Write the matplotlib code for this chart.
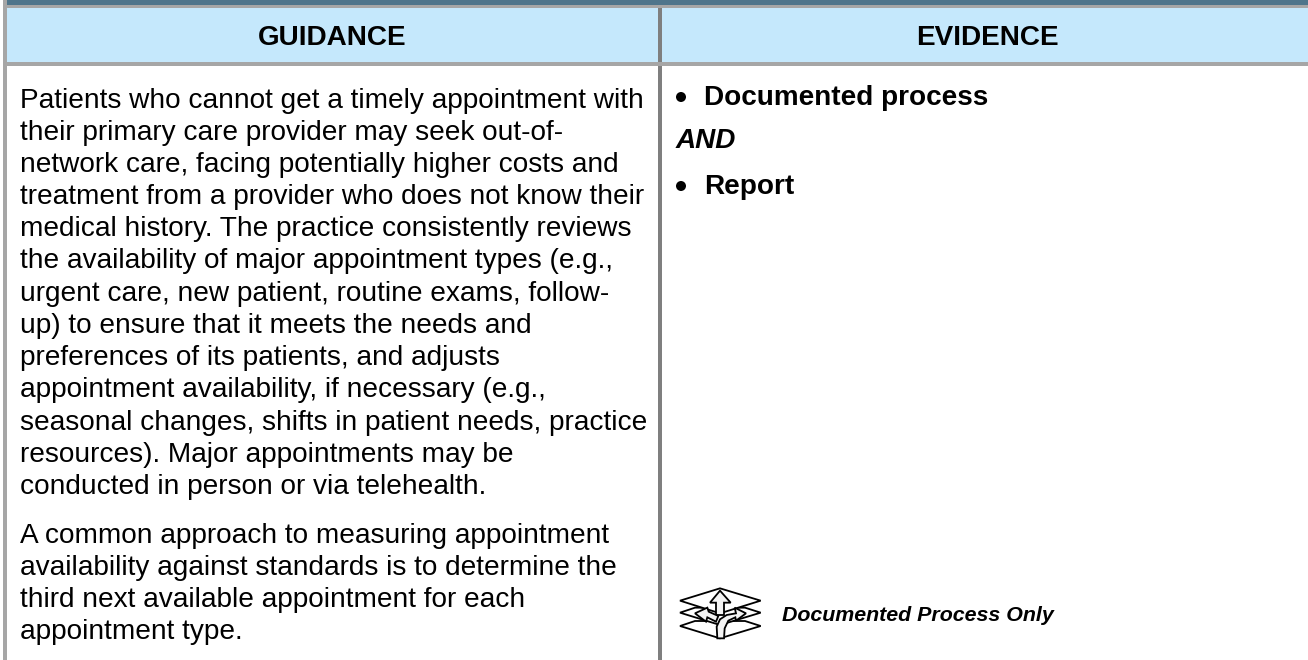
import matplotlib
matplotlib.use('Agg')
import matplotlib.pyplot as plt
from matplotlib.patches import Circle, Polygon, Rectangle

plt.rcParams['font.family'] = ['Liberation Sans', 'DejaVu Sans']

# Text content
headers = ['GUIDANCE', 'EVIDENCE']
guidance_1 = [
    'Patients who cannot get a timely appointment with',
    'their primary care provider may seek out-of-',
    'network care, facing potentially higher costs and',
    'treatment from a provider who does not know their',
    'medical history. The practice consistently reviews',
    'the availability of major appointment types (e.g.,',
    'urgent care, new patient, routine exams, follow-',
    'up) to ensure that it meets the needs and',
    'preferences of its patients, and adjusts',
    'appointment availability, if necessary (e.g.,',
    'seasonal changes, shifts in patient needs, practice',
    'resources). Major appointments may be',
    'conducted in person or via telehealth.',
]
guidance_2 = [
    'A common approach to measuring appointment',
    'availability against standards is to determine the',
    'third next available appointment for each',
    'appointment type.',
]
icon_label = 'Documented Process Only'

W, H = 1308, 660
FS = 20.2
LINE = 32.2

fig = plt.figure(figsize=(W / 100, H / 100), dpi=100)
ax = fig.add_axes([0, 0, 1, 1])
ax.set_xlim(0, W)
ax.set_ylim(H, 0)
ax.axis('off')

# bands and borders
ax.add_patch(Rectangle((3.3, 0), W, 5, color='#4F758B', lw=0))
ax.add_patch(Rectangle((3.3, 5), W, 3, color='#A6A6A6', lw=0))
ax.add_patch(Rectangle((6.5, 8), W, 54, color='#C5E8FC', lw=0))
ax.add_patch(Rectangle((3.3, 62), W, 4, color='#A6A6A6', lw=0))
ax.add_patch(Rectangle((3.3, 0), 3.2, H, color='#A6A6A6', lw=0))
ax.add_patch(Rectangle((658, 8), 4, 54, color='#7F7F7F', lw=0))
ax.add_patch(Rectangle((658, 66), 4, H, color='#7F7F7F', lw=0))

# headers
ax.text(332, 44.7, headers[0], fontsize=20.1, fontweight='bold', ha='center', va='baseline')
ax.text(987, 44.7, headers[1], fontsize=20.1, fontweight='bold', ha='center', va='baseline')

# guidance text
for i, line in enumerate(guidance_1):
    ax.text(20, 107.5 + i * LINE, line, fontsize=FS, va='baseline')
for i, line in enumerate(guidance_2):
    ax.text(20, 542.7 + i * LINE, line, fontsize=FS, va='baseline')

# evidence text
ax.add_patch(Circle((681, 97), 5, fc='black', lw=0))
ax.add_patch(Circle((681, 186), 5, fc='black', lw=0))
ax.text(704, 105, 'Documented process', fontsize=20.1, fontweight='bold', va='baseline')
ax.text(676, 148.3, 'AND', fontsize=20.1, fontweight='bold', style='italic', va='baseline')
ax.text(704, 194.3, 'Report', fontsize=20.1, fontweight='bold', va='baseline')
ax.text(782.5, 620.7, icon_label, fontsize=15.4, fontweight='bold', style='italic', va='baseline')


def icon(points, fc='white'):
    xy = [(660 + px / 3, 560 + py / 3) for px, py in points]
    ax.add_patch(Polygon(xy, fc=fc, ec='black', lw=1.3, joinstyle='miter'))


icon([(60, 198), (105, 183), (255, 183), (302, 198), (180, 235)])
icon([(60, 158), (105, 143), (255, 143), (302, 158), (180, 195)])
icon([(60, 122), (180, 85), (302, 122), (180, 160)])
icon([(168, 165), (168, 128), (150, 128), (180, 92), (212, 128), (192, 128), (192, 165)], '#F4F4F4')
icon([(105, 160), (142, 143), (146, 155), (175, 168), (168, 185), (142, 172), (138, 185)], '#F4F4F4')
icon([(172, 235), (170, 200), (180, 178), (200, 165), (228, 160), (224, 143), (258, 160),
      (228, 182), (226, 172), (205, 182), (194, 205), (192, 235)], '#F4F4F4')

fig.savefig('out.png', dpi=100, facecolor='white')
